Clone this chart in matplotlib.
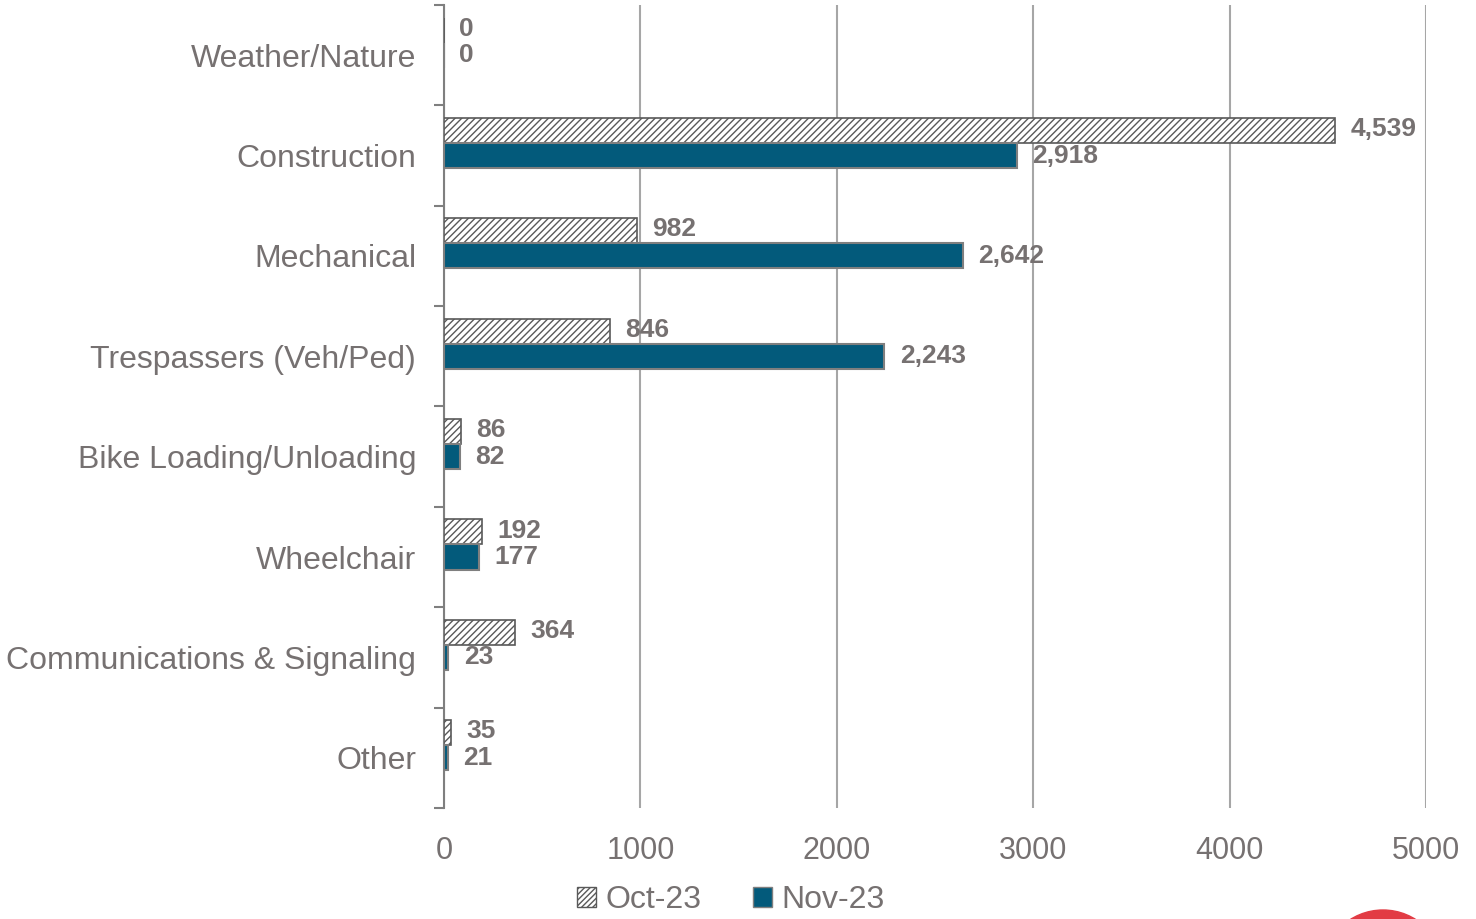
import matplotlib
matplotlib.use("Agg")
import matplotlib.pyplot as plt
from matplotlib.patches import Circle, Patch
import numpy as np

plt.rcParams['font.family'] = ['Liberation Sans', 'DejaVu Sans']
plt.rcParams['hatch.linewidth'] = 1.0

categories = ['Weather/Nature', 'Construction', 'Mechanical', 'Trespassers (Veh/Ped)',
              'Bike Loading/Unloading', 'Wheelchair', 'Communications & Signaling', 'Other']
oct_23 = [0, 4539, 982, 846, 86, 192, 364, 35]
nov_23 = [0, 2918, 2642, 2243, 82, 177, 23, 21]
xticks = [0, 1000, 2000, 3000, 4000, 5000]

gray_txt = '#767171'
teal = '#035a7b'
edge = '#7f7f7f'

fig = plt.figure(figsize=(14.76, 9.19), dpi=100)
ax = fig.add_axes([0.3008, 0.1208, 0.6653, 0.8738])

y = np.arange(len(categories))
h = 0.25
# Nov bar sits on the category centre, Oct just above it
ax.barh(y - h, oct_23, height=h, color='white', edgecolor='#595959', hatch='/////',
        linewidth=1.2, label='Oct-23', zorder=3)
ax.barh(y, nov_23, height=h, color=teal, edgecolor=edge,
        linewidth=1.5, label='Nov-23', zorder=3)

for yi, v in zip(y - h, oct_23):
    ax.annotate(f'{v:,}', (v, yi), xytext=(11, 1), textcoords='offset points',
                va='center', ha='left', fontsize=19, fontweight='bold', color=gray_txt)
for yi, v in zip(y, nov_23):
    ax.annotate(f'{v:,}', (v, yi), xytext=(11, 0), textcoords='offset points',
                va='center', ha='left', fontsize=19, fontweight='bold', color=gray_txt)

ax.set_xlim(0, 5000)
ax.set_ylim(len(categories) - 0.5, -0.5)
ax.set_xticks(xticks)
ax.set_xticklabels([str(t) for t in xticks], fontsize=22, color=gray_txt)
ax.set_yticks(y)
ax.set_yticklabels(categories, fontsize=23, color=gray_txt)
ax.set_yticks(np.arange(-0.5, len(categories)), minor=True)
ax.tick_params(axis='y', which='major', length=0, pad=20)
ax.tick_params(axis='y', which='minor', length=7, width=1.5, color=edge)
ax.tick_params(axis='x', length=0, pad=20)

ax.xaxis.grid(True, color='#a6a6a6', linewidth=1.5, zorder=0)
ax.set_axisbelow(True)
for s in ['top', 'right', 'bottom']:
    ax.spines[s].set_visible(False)
ax.spines['left'].set_color(edge)
ax.spines['left'].set_linewidth(1.5)

handles = [Patch(facecolor='white', edgecolor='#595959', hatch='//////', linewidth=1),
           Patch(facecolor=teal, edgecolor=edge, linewidth=1)]
fig.legend(handles, ['Oct-23', 'Nov-23'], loc='lower center', bbox_to_anchor=(0.495, -0.027),
           ncol=2, frameon=False, fontsize=23, labelcolor=gray_txt,
           handlelength=0.6, handleheight=0.6, handletextpad=0.3, columnspacing=1.6)

# partial logo circle at bottom right
fig.patches.append(Circle((13.83, -0.52), 0.61, transform=fig.dpi_scale_trans,
                          color='#e23b44', clip_on=False))

fig.savefig('out.png', dpi=100)
